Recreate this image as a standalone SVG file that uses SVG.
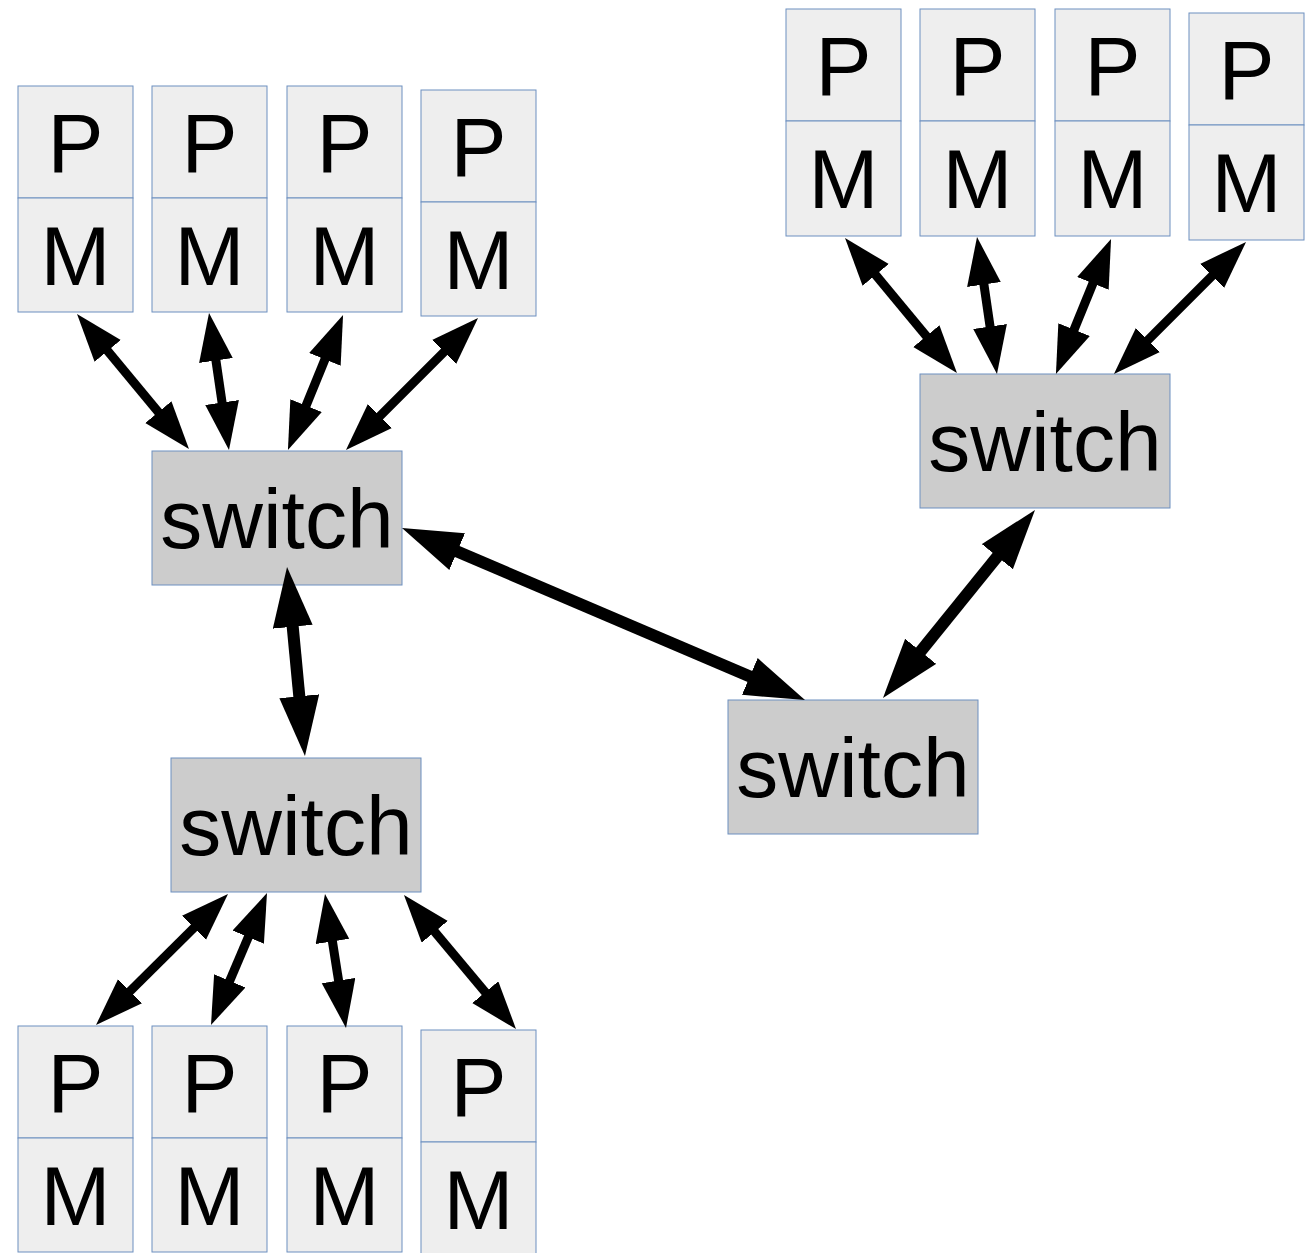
<svg xmlns="http://www.w3.org/2000/svg" width="1315" height="1253" viewBox="0 0 1315 1253">
<style>
.pm{fill:#eeeeee;stroke:#6d8fc0;stroke-width:1}
.sw{fill:#cccccc;stroke:#6d8fc0;stroke-width:1}
.t{font-family:"Liberation Sans",Arial,sans-serif;font-size:84px;fill:#000;text-anchor:middle}
.a{stroke:#000;stroke-width:9;fill:none;marker-start:url(#hs);marker-end:url(#hs)}
.b{stroke:#000;stroke-width:12;fill:none;marker-start:url(#hl);marker-end:url(#hl)}
</style>
<defs>
<marker id="hs" markerUnits="userSpaceOnUse" markerWidth="50" markerHeight="36" refX="28" refY="17" orient="auto-start-reverse"><path d="M0,0 L48,17 L0,34 z" fill="#000"/></marker>
<marker id="hl" markerUnits="userSpaceOnUse" markerWidth="62" markerHeight="42" refX="35" refY="20" orient="auto-start-reverse"><path d="M0,0 L60,20 L0,40 z" fill="#000"/></marker>
</defs>
<rect width="1315" height="1253" fill="#fff"/>
<g id="tl1"><rect class="pm" x="18" y="86" width="115" height="112"/><rect class="pm" x="18" y="198" width="115" height="114"/><text class="t" x="75.5" y="172">P</text><text class="t" x="75.5" y="285">M</text></g>
<g id="tl2"><rect class="pm" x="152" y="86" width="115" height="112"/><rect class="pm" x="152" y="198" width="115" height="114"/><text class="t" x="209.5" y="172">P</text><text class="t" x="209.5" y="285">M</text></g>
<g id="tl3"><rect class="pm" x="287" y="86" width="115" height="112"/><rect class="pm" x="287" y="198" width="115" height="114"/><text class="t" x="344.5" y="172">P</text><text class="t" x="344.5" y="285">M</text></g>
<g id="tl4"><rect class="pm" x="421" y="90" width="115" height="112"/><rect class="pm" x="421" y="202" width="115" height="114"/><text class="t" x="478.5" y="176">P</text><text class="t" x="478.5" y="289">M</text></g>
<g id="tr1"><rect class="pm" x="786" y="9" width="115" height="112"/><rect class="pm" x="786" y="121" width="115" height="115"/><text class="t" x="843.5" y="95">P</text><text class="t" x="843.5" y="208">M</text></g>
<g id="tr2"><rect class="pm" x="920" y="9" width="115" height="112"/><rect class="pm" x="920" y="121" width="115" height="115"/><text class="t" x="977.5" y="95">P</text><text class="t" x="977.5" y="208">M</text></g>
<g id="tr3"><rect class="pm" x="1055" y="9" width="115" height="112"/><rect class="pm" x="1055" y="121" width="115" height="115"/><text class="t" x="1112.5" y="95">P</text><text class="t" x="1112.5" y="208">M</text></g>
<g id="tr4"><rect class="pm" x="1189" y="13" width="115" height="112"/><rect class="pm" x="1189" y="125" width="115" height="115"/><text class="t" x="1246.5" y="99">P</text><text class="t" x="1246.5" y="212">M</text></g>
<g id="bl1"><rect class="pm" x="18" y="1026" width="115" height="112"/><rect class="pm" x="18" y="1138" width="115" height="114"/><text class="t" x="75.5" y="1112">P</text><text class="t" x="75.5" y="1225">M</text></g>
<g id="bl2"><rect class="pm" x="152" y="1026" width="115" height="112"/><rect class="pm" x="152" y="1138" width="115" height="114"/><text class="t" x="209.5" y="1112">P</text><text class="t" x="209.5" y="1225">M</text></g>
<g id="bl3"><rect class="pm" x="287" y="1026" width="115" height="112"/><rect class="pm" x="287" y="1138" width="115" height="114"/><text class="t" x="344.5" y="1112">P</text><text class="t" x="344.5" y="1225">M</text></g>
<g id="bl4"><rect class="pm" x="421" y="1030" width="115" height="112"/><rect class="pm" x="421" y="1142" width="115" height="114"/><text class="t" x="478.5" y="1116">P</text><text class="t" x="478.5" y="1229">M</text></g>
<g id="sw-tl"><rect class="sw" x="152" y="451" width="250" height="134"/><text class="t" x="277" y="548">switch</text></g>
<g id="sw-tr"><rect class="sw" x="920" y="374" width="250" height="134"/><text class="t" x="1045" y="471">switch</text></g>
<g id="sw-bl"><rect class="sw" x="171" y="758" width="250" height="134"/><text class="t" x="296" y="855">switch</text></g>
<g id="sw-mid"><rect class="sw" x="728" y="700" width="250" height="134"/><text class="t" x="853" y="797">switch</text></g>
<g id="connectors">
<line class="a" x1="89.8" y1="329.4" x2="176.2" y2="433.6"/>
<line class="a" x1="211.9" y1="332.8" x2="226.1" y2="430.2"/>
<line class="a" x1="335.5" y1="333.5" x2="295.5" y2="431.5"/>
<line class="a" x1="463.9" y1="332.1" x2="360.1" y2="435.9"/>
<line class="a" x1="857.8" y1="253.4" x2="944.2" y2="357.6"/>
<line class="a" x1="979.9" y1="256.8" x2="994.1" y2="354.2"/>
<line class="a" x1="1103.5" y1="257.5" x2="1063.5" y2="355.5"/>
<line class="a" x1="1231.9" y1="256.1" x2="1128.1" y2="359.9"/>
<line class="a" x1="213.8" y1="908.1" x2="110.2" y2="1010.9"/>
<line class="a" x1="259.2" y1="911.4" x2="218.8" y2="1006.6"/>
<line class="a" x1="328.1" y1="913.8" x2="342.9" y2="1008.2"/>
<line class="a" x1="416.8" y1="910.3" x2="503.2" y2="1013.7"/>
<line class="b" x1="289.4" y1="591.9" x2="302.6" y2="731.1"/>
<line class="b" x1="425" y1="537.8" x2="782" y2="690.2"/>
<line class="b" x1="898.7" y1="678.6" x2="1019.3" y2="529.4"/>
</g>
</svg>
